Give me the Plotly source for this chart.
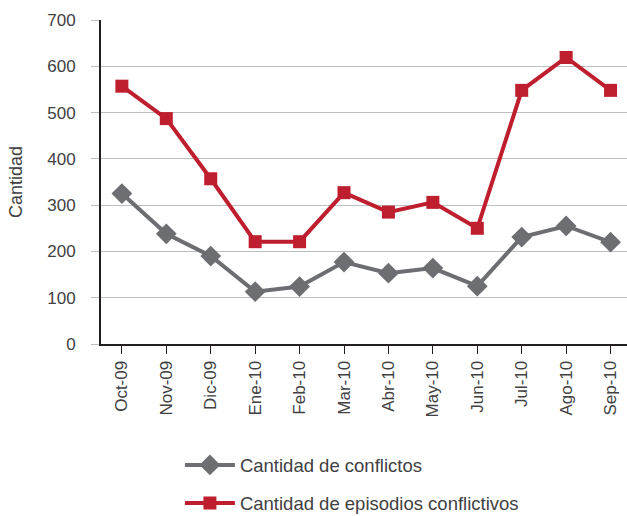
import plotly.graph_objects as go

meses = ["Oct-09", "Nov-09", "Dic-09", "Ene-10", "Feb-10", "Mar-10",
         "Abr-10", "May-10", "Jun-10", "Jul-10", "Ago-10", "Sep-10"]
conflictos = [325, 238, 190, 113, 124, 177, 153, 164, 125, 231, 255, 220]
episodios = [557, 487, 357, 221, 221, 327, 285, 306, 250, 548, 619, 548]

GRIS = "#6d6e71"
ROJO = "#be1e2d"
TEXTO = "#414042"

fig = go.Figure()
fig.add_trace(go.Scatter(
    x=meses, y=conflictos, mode="lines+markers",
    name="Cantidad de conflictos", legendgroup="a",
    line=dict(color=GRIS, width=4),
    marker=dict(symbol="diamond", size=16, color=GRIS),
))
fig.add_trace(go.Scatter(
    x=meses, y=episodios, mode="lines+markers",
    name="Cantidad de episodios conflictivos", legendgroup="b",
    line=dict(color=ROJO, width=4),
    marker=dict(symbol="square", size=13, color=ROJO),
))

fig.update_layout(
    width=627, height=516,
    margin=dict(l=101, r=0, t=20, b=172, autoexpand=False),
    plot_bgcolor="white", paper_bgcolor="white",
    font=dict(family="Liberation Sans, Arial, sans-serif", size=17, color=TEXTO),
    legend=dict(x=0.15, y=-0.316, xanchor="left", yanchor="top",
                font=dict(size=18.5, color=TEXTO), tracegroupgap=11,
                itemwidth=50),
)
fig.update_xaxes(
    type="category", range=[-0.47, 11.37],
    showline=True, linecolor="#231f20", linewidth=2,
    ticks="outside", ticklen=8, tickcolor="#231f20", tickwidth=1,
    tickangle=-90, showgrid=False, zeroline=False,
    tickfont=dict(size=17, color=TEXTO),
)
fig.update_yaxes(
    range=[0, 700], dtick=100,
    showline=True, linecolor="#231f20", linewidth=2,
    showgrid=True, gridcolor="#bcbec0", gridwidth=1,
    ticks="outside", ticklen=8, tickcolor="#bcbec0",
    zeroline=False, ticklabelstandoff=12,
    title=dict(text="Cantidad", font=dict(size=18, color=TEXTO), standoff=20),
    tickfont=dict(size=17, color=TEXTO),
)

# quitar el margen por defecto del body para que el gráfico quede en 0,0
fig.write_html("out.html", config={"displayModeBar": False},
               post_script="document.body.style.margin='0';")
